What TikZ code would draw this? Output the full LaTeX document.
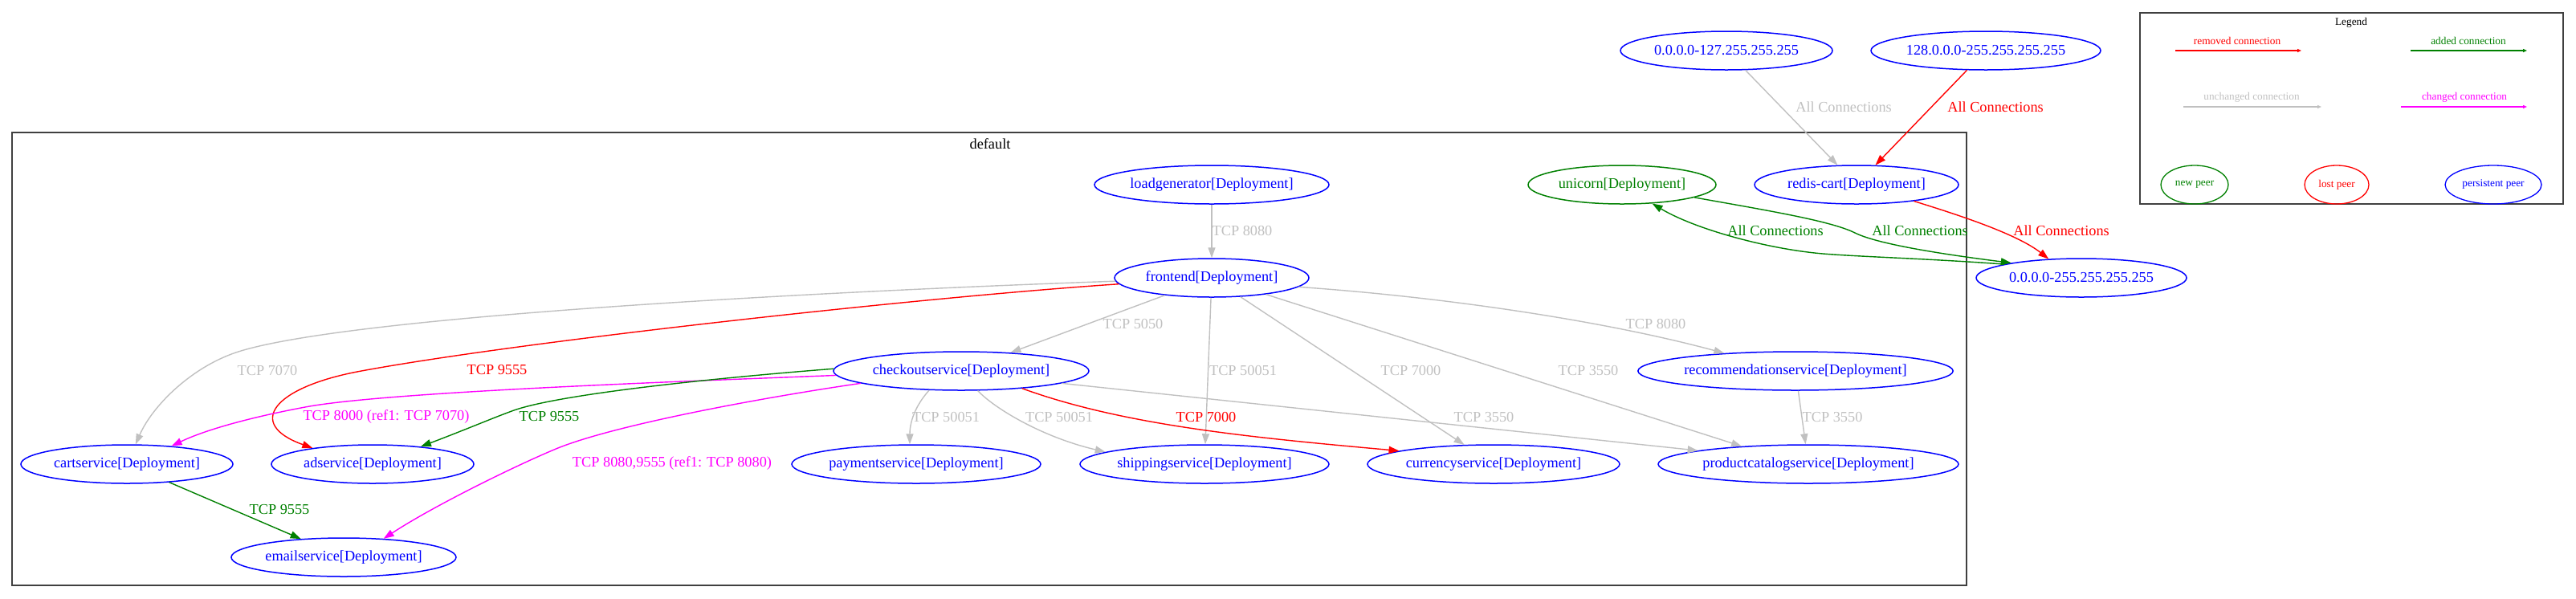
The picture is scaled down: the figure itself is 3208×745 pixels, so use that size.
\documentclass[tikz,border=0pt]{standalone}
\usepackage{fontspec}
\setmainfont{Liberation Serif}
\usetikzlibrary{shapes.geometric,arrows.meta}
\definecolor{cblue}{RGB}{0,0,255}
\definecolor{cgreen}{RGB}{0,128,0}
\definecolor{cred}{RGB}{255,0,0}
\definecolor{cgray}{RGB}{192,192,192}
\definecolor{cmag}{RGB}{255,0,255}
\newcommand{\gvfont}{\fontsize{18.3}{22}\selectfont}
\newcommand{\lgfont}{\fontsize{13.3}{16}\selectfont}
\begin{document}
\begin{tikzpicture}[x=1pt,y=-1pt,
  peer/.style={ellipse, draw=cblue, text=cblue, line width=1.5pt, inner sep=0pt, minimum height=48pt, font=\gvfont},
  newpeer/.style={peer, draw=cgreen, text=cgreen},
  lpeer/.style={ellipse, line width=1.3pt, inner sep=0pt, minimum height=48pt, font=\lgfont},
  elbl/.style={inner sep=0pt, font=\gvfont},
  llbl/.style={inner sep=0pt, font=\lgfont},
  conn/.style={line width=1.4pt, -{Triangle[length=13pt,width=9pt]}},
  lconn/.style={line width=1.3pt, -{Triangle[length=5pt,width=4pt]}}
]
\useasboundingbox (0,0) rectangle (3208,745);

% cluster
\draw[line width=1.6pt, black!75] (15,165) rectangle (2449,729);
\node[elbl, text=black] (ctitle) at (1233,179) {default};

% legend
\draw[line width=1.6pt, black!75] (2665,16) rectangle (3192,254);
\node[llbl, text=black] (legt) at (2928,28) {Legend};
\coordinate (lra) at (2709,63); \coordinate (lrb) at (2866,63);
\coordinate (laa) at (3002,63); \coordinate (lab) at (3147,63);
\coordinate (lua) at (2719,133); \coordinate (lub) at (2891,133);
\coordinate (lca) at (2990,133); \coordinate (lcb) at (3147,133);
\draw[lconn, cred] (lra) -- (lrb);
\draw[lconn, cgreen] (laa) -- (lab);
\draw[lconn, cgray] (lua) -- (lub);
\draw[lconn, cmag] (lca) -- (lcb);
\node[llbl, text=cred] (lrt) at (2786,51) {removed connection};
\node[llbl, text=cgreen] (lat) at (3074,51) {added connection};
\node[llbl, text=cgray] (lut) at (2804,121) {unchanged connection};
\node[llbl, text=cmag] (lct) at (3069,121) {changed connection};
\node[lpeer, draw=cgreen, text=cgreen, minimum width=84pt] (lnew) at (2733,230) {new peer};
\node[lpeer, draw=cred, text=cred, minimum width=80pt] (llost) at (2910,230) {lost peer};
\node[lpeer, draw=cblue, text=cblue, minimum width=120pt] (lpers) at (3105,230) {persistent peer};

% nodes
\node[peer, minimum width=292pt] (lg) at (1509,230) {loadgenerator[Deployment]};
\node[peer, minimum width=242pt] (fe) at (1509,346) {frontend[Deployment]};
\node[newpeer, minimum width=234pt] (uni) at (2020,230) {unicorn[Deployment]};
\node[peer, minimum width=254pt] (redis) at (2312,230) {redis-cart[Deployment]};
\node[peer, minimum width=318pt] (co) at (1197,462) {checkoutservice[Deployment]};
\node[peer, minimum width=390pt] (rec) at (2236,462) {recommendationservice[Deployment]};
\node[peer, minimum width=264pt] (cart) at (158,578) {cartservice[Deployment]};
\node[peer, minimum width=252pt] (ad) at (464,578) {adservice[Deployment]};
\node[peer, minimum width=310pt] (pay) at (1141,578) {paymentservice[Deployment]};
\node[peer, minimum width=310pt] (ship) at (1500,578) {shippingservice[Deployment]};
\node[peer, minimum width=314pt] (cur) at (1860,578) {currencyservice[Deployment]};
\node[peer, minimum width=374pt] (pc) at (2252,578) {productcatalogservice[Deployment]};
\node[peer, minimum width=280pt] (email) at (428,694) {emailservice[Deployment]};
\node[peer, minimum width=264pt] (ipa) at (2150,63) {0.0.0.0-127.255.255.255};
\node[peer, minimum width=286pt] (ipb) at (2473,63) {128.0.0.0-255.255.255.255};
\node[peer, minimum width=262pt] (ipall) at (2592,346) {0.0.0.0-255.255.255.255};

% edges
\draw[conn, cgray] (lg) -- (fe);
\draw[conn, cgray] (fe) -- (co);
\draw[conn, cgray] (fe) .. controls (1050,362) and (450,392) .. (300,437) .. controls (240,455) and (190,505) .. (cart);
\draw[conn, cred] (fe) .. controls (1150,370) and (650,425) .. (450,462) .. controls (340,482) and (305,528) .. (ad.165);
\draw[conn, cgray] (fe) -- (ship);
\draw[conn, cgray] (fe) -- (cur);
\draw[conn, cgray] (fe.-17) -- (pc.165);
\draw[conn, cgray] (fe.-6) .. controls (1800,370) and (2000,400) .. (rec.166);
\draw[conn, cmag] (co.182) .. controls (850,475) and (480,488) .. (380,507) .. controls (300,522) and (250,538) .. (cart.22);
\draw[conn, cgreen] (co.179) .. controls (900,470) and (700,490) .. (640,511) .. controls (615,520) and (580,535) .. (ad.20);
\draw[conn, cmag] (co.187) .. controls (950,495) and (760,530) .. (690,560) .. controls (640,581) and (540,630) .. (email.25);
\draw[conn, cgreen] (cart) -- (email);
\draw[conn, cgray] (co.211) .. controls (1140,505) and (1133,525) .. (pay.108);
\draw[conn, cgray] (co.-50) .. controls (1240,510) and (1300,545) .. (ship.173);
\draw[conn, cred] (co.-16) .. controls (1400,530) and (1560,545) .. (cur.172);
\draw[conn, cgray] (co.-7) -- (pc.173);
\draw[conn, cgray] (rec) -- (pc);
\draw[conn, cgray] (ipa) -- (redis);
\draw[conn, cred] (ipb) -- (redis);
\draw[conn, cred] (redis.-16) .. controls (2430,265) and (2510,290) .. (ipall.150);
\draw[conn, cgreen] (uni.-10) .. controls (2200,262) and (2280,275) .. (2310,290) .. controls (2340,305) and (2430,318) .. (ipall.168);
\draw[conn, cgreen] (ipall.170) .. controls (2400,322) and (2320,320) .. (2270,316) .. controls (2200,310) and (2110,285) .. (uni.-32);

% edge labels
\node[elbl, text=cgray] (e1) at (1547,287) {TCP 8080};
\node[elbl, text=cgray] (e2) at (1411,403) {TCP 5050};
\node[elbl, text=cgray] (e3) at (333,461) {TCP 7070};
\node[elbl, text=cred] (e4) at (619,461) {TCP 9555};
\node[elbl, text=cgray] (e5) at (1548,461) {TCP 50051};
\node[elbl, text=cgray] (e6) at (1757,461) {TCP 7000};
\node[elbl, text=cgray] (e7) at (1978,461) {TCP 3550};
\node[elbl, text=cgray] (e8) at (2062,403) {TCP 8080};
\node[elbl, text=cmag] (e9) at (481,519) {TCP 8000 (ref1: TCP 7070)};
\node[elbl, text=cgreen] (e10) at (684,519) {TCP 9555};
\node[elbl, text=cmag] (e11) at (837,577) {TCP 8080,9555 (ref1: TCP 8080)};
\node[elbl, text=cgreen] (e12) at (348,635) {TCP 9555};
\node[elbl, text=cgray] (e13) at (1178,519) {TCP 50051};
\node[elbl, text=cgray] (e14) at (1319,519) {TCP 50051};
\node[elbl, text=cred] (e15) at (1502,519) {TCP 7000};
\node[elbl, text=cgray] (e16) at (1848,519) {TCP 3550};
\node[elbl, text=cgray] (e17) at (2282,519) {TCP 3550};
\node[elbl, text=cgray] (e18) at (2296,133) {All Connections};
\node[elbl, text=cred] (e19) at (2485,133) {All Connections};
\node[elbl, text=cred] (e20) at (2567,287) {All Connections};
\node[elbl, text=cgreen] (e21) at (2391,287) {All Connections};
\node[elbl, text=cgreen] (e22) at (2211,287) {All Connections};
\end{tikzpicture}
\end{document}
